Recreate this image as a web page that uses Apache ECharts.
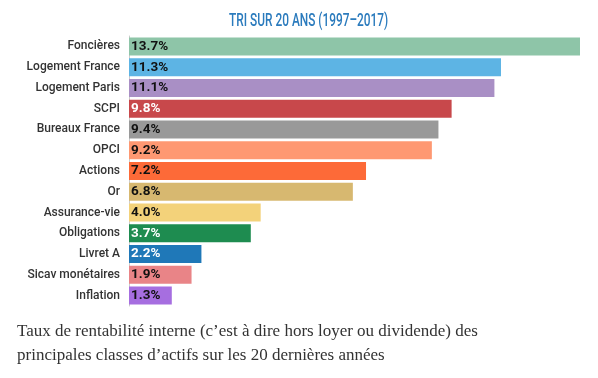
<!DOCTYPE html>
<html><head><meta charset="utf-8">
<script src="https://cdn.jsdelivr.net/npm/echarts@6/dist/echarts.min.js"></script>
<style>html,body{margin:0;padding:0;background:#fff}#c{width:598px;height:378px}</style>
</head><body><div id="c"></div>
<script>
const categories = ['Foncières','Logement France','Logement Paris','SCPI','Bureaux France','OPCI','Actions','Or','Assurance-vie','Obligations','Livret A','Sicav monétaires','Inflation'];
const values = [13.7,11.3,11.1,9.8,9.4,9.2,7.2,6.8,4.0,3.7,2.2,1.9,1.3];
const colors = ['#8ec5a8','#5db4e4','#a98fc5','#c8484b','#999999','#fe9872','#fd6a38','#d7b870','#f3d27a','#1e8c50','#1f78b8','#e98487','#a66ee0'];
const labelColors = ['#111','#111','#111','#fff','#111','#111','#111','#111','#111','#fff','#fff','#111','#111'];
const titleText = 'TRI SUR 20 ANS (1997–2017)';
const captionLines = ['Taux de rentabilité interne (c’est à dire hors loyer ou dividende) des','principales classes d’actifs sur les 20 dernières années'];

const chart = echarts.init(document.getElementById('c'));
chart.setOption({
  animation:false,
  grid:{left:129,right:18,top:36,bottom:72},
  xAxis:{type:'value',min:0,max:13.7,show:false},
  yAxis:{type:'category',data:categories,inverse:true,
    axisLine:{show:true,lineStyle:{color:'#cccccc',width:1}},
    axisTick:{show:false},
    axisLabel:{color:'#333',fontFamily:'Roboto',fontWeight:500,fontSize:12,margin:9}},
  series:[{type:'bar',barWidth:18,
    data:values.map((v,i)=>({value:v,itemStyle:{color:colors[i]},label:{color:labelColors[i]}})),
    label:{show:true,position:'insideLeft',distance:2,fontFamily:'Roboto',fontWeight:'bold',fontSize:13.5,
      formatter:p=>p.value.toFixed(1)+'%'}}],
  graphic:[
    {type:'text',x:229,y:12,scaleX:0.66,style:{text:titleText,fill:'#2b7bbd',font:'500 18px Roboto'}},
    {type:'text',left:17,top:323,style:{text:captionLines[0],fill:'#333',font:'17px "Liberation Serif"'}},
    {type:'text',left:17,top:347,style:{text:captionLines[1],fill:'#333',font:'17px "Liberation Serif"'}}
  ]
});
</script></body></html>
